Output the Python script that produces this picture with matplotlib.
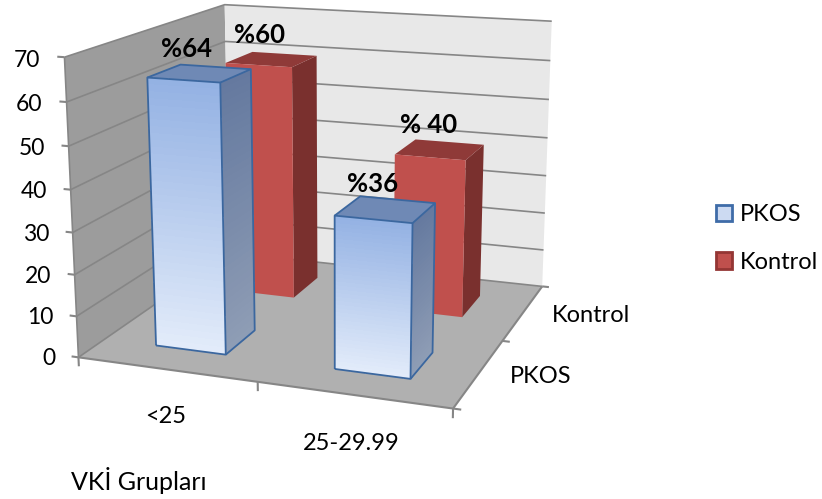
import numpy as np
import matplotlib
matplotlib.use("Agg")
import matplotlib.pyplot as plt
from matplotlib.patches import Patch
from mpl_toolkits.mplot3d import proj3d
from mpl_toolkits.mplot3d.art3d import Poly3DCollection, Line3DCollection

plt.rcParams['font.family'] = ['Lato', 'DejaVu Sans']

groups = ['<25', '25-29.99']
series = ['PKOS', 'Kontrol']
pkos = [64, 36]
kontrol = [60, 40]
pkos_labels = ['%64', '%36']
kontrol_labels = ['%60', '% 40']
z_ticks = [0, 10, 20, 30, 40, 50, 60, 70]

W, H = 822, 499

# corners of the chart box: (x, y, z) -> pixel position
box = [
    ((0, 0, 0), (78, 358)),
    ((2, 0, 0), (453, 408)),
    ((2, 2, 0), (542, 287)),
    ((0, 2, 0), (230, 252)),
    ((0, 0, 70), (65, 57)),
    ((0, 2, 70), (224, 5)),
    ((2, 2, 70), (552, 21)),
]


# camera matrix fitted on the box corners
def fit_camera(points):
    rows, rhs = [], []
    for (x, y, z), (u, v) in points:
        rows.append([x, y, z, 1, 0, 0, 0, 0, -u * x, -u * y, -u * z])
        rhs.append(u)
        rows.append([0, 0, 0, 0, x, y, z, 1, -v * x, -v * y, -v * z])
        rhs.append(v)
    p = np.linalg.lstsq(np.array(rows, float), np.array(rhs, float), rcond=None)[0]
    return np.array([p[:4], p[4:8], [0, 0, 0.01, 0], [p[8], p[9], p[10], 1.0]])


fig = plt.figure(figsize=(W / 100, H / 100), dpi=100)
ax = fig.add_axes([0, (H - W) / 2 / H, 1, W / H], projection='3d', computed_zorder=False)
ax.set_axis_off()
ax.set_xticks([])
ax.set_yticks([])
ax.set_zticks([])
ax.patch.set_visible(False)
M = fit_camera(box)
ax.get_proj = lambda: M
ax.viewLim.intervalx = (0, W)
ax.viewLim.intervaly = (H + (W - H) / 2, -(W - H) / 2)


def quad(corners, color, zorder):
    poly = Poly3DCollection([corners], facecolors=color, edgecolors='none')
    poly.set_zorder(zorder)
    ax.add_collection3d(poly, autolim=False)


def line(points, color, lw, zorder):
    col = Line3DCollection([points], colors=color, linewidths=lw)
    col.set_zorder(zorder)
    ax.add_collection3d(col, autolim=False)


def label(x, y, z, s, **kw):
    u, v, _ = proj3d.proj_transform(x, y, z, M)
    ax.text2D(float(u), float(v), s, va='center', zorder=9, **kw)


def vgrad(x0, y0, x1, y1, z1, top, bottom, zorder):
    # vertical face with a colour fade, drawn as thin slices
    if top == bottom:
        quad([(x0, y0, 0), (x1, y1, 0), (x1, y1, z1), (x0, y0, z1)], top, zorder)
        return
    top = np.array(matplotlib.colors.to_rgb(top))
    bottom = np.array(matplotlib.colors.to_rgb(bottom))
    levels = np.linspace(0, z1, 41)
    verts, cols = [], []
    for i in range(40):
        z_a, z_b = levels[i], levels[i + 1]
        verts.append([(x0, y0, z_a), (x1, y1, z_a), (x1, y1, z_b), (x0, y0, z_b)])
        cols.append(bottom + (top - bottom) * (i + 0.5) / 40)
    poly = Poly3DCollection(verts, facecolors=cols, edgecolors='none', antialiased=False)
    poly.set_zorder(zorder)
    ax.add_collection3d(poly, autolim=False)


def bar(i, j, value, style, zorder):
    x0, x1 = i + 0.3, i + 0.7
    y0, y1 = j + 0.3, j + 0.7
    vgrad(x1, y0, x1, y1, value, style['side_top'], style['side_bottom'], zorder)
    quad([(x0, y0, value), (x1, y0, value), (x1, y1, value), (x0, y1, value)], style['cap'], zorder + 0.1)
    vgrad(x0, y0, x1, y0, value, style['front_top'], style['front_bottom'], zorder + 0.2)
    if style['edge']:
        line([(x0, y0, 0), (x1, y0, 0), (x1, y0, value), (x0, y0, value), (x0, y0, 0)], style['edge'], 1.3, zorder + 0.3)
        line([(x1, y0, 0), (x1, y1, 0), (x1, y1, value), (x1, y0, value)], style['edge'], 1.3, zorder + 0.3)
        line([(x0, y0, value), (x0, y1, value), (x1, y1, value)], style['edge'], 1.3, zorder + 0.3)


GRID = '#868686'

# floor and walls
quad([(0, 0, 0), (2, 0, 0), (2, 2, 0), (0, 2, 0)], '#b0b0b0', 1)
quad([(0, 0, 0), (0, 2, 0), (0, 2, 70), (0, 0, 70)], '#9c9c9c', 1)
quad([(0, 2, 0), (2, 2, 0), (2, 2, 70), (0, 2, 70)], '#e8e8e8', 1)

for z in z_ticks:
    line([(0, 0, z), (0, 2, z), (2, 2, z)], GRID, 1.2, 2)
    line([(-0.04, 0, z), (0, 0, z)], GRID, 1.5, 2)
    label(-0.135, 0, z - 1, str(z), ha='right', fontsize=16.5, color='black')
line([(0, 0, 0), (0, 0, 70)], GRID, 1.2, 2)
line([(0, 0, 0), (2, 0, 0), (2, 2, 0)], GRID, 1.5, 2)

for i in range(3):
    line([(i, 0, 0), (i, 0, -2.2)], GRID, 1.5, 2)
    line([(2, i, 0), (2.04, i, 0)], GRID, 1.5, 2)

blue = dict(front_top='#93b1e3', front_bottom='#e3ecfa', side_top='#64799f', side_bottom='#8f9db5',
            cap='#6f89b5', edge='#3b679f')
red = dict(front_top='#c0504d', front_bottom='#c0504d', side_top='#7a302e', side_bottom='#7a302e',
           cap='#8f3a38', edge=None)

for i, v in enumerate(kontrol):
    bar(i, 1, v, red, 3 + i)
for i, v in enumerate(pkos):
    bar(i, 0, v, blue, 5 + i)

# value labels above the bars
for i, v in enumerate(pkos):
    label(i + 0.43, 0.5, v + 5.5, pkos_labels[i], ha='center', fontsize=18.5, fontweight='bold')
for i, v in enumerate(kontrol):
    label(i + 0.43, 1.5, v + 6, kontrol_labels[i], ha='center', fontsize=18.5, fontweight='bold')

for i, name in enumerate(groups):
    label(i + 0.49, 0, -11.5, name, ha='center', fontsize=17)
for j, name in enumerate(series):
    label(2.16, j + 0.5, 0, name, ha='left', fontsize=17)

fig.text(71 / W, 1 - 481 / H, 'VKİ Grupları', ha='left', va='center', fontsize=18)

handles = [Patch(facecolor='#ccdaf2', edgecolor='#3f6ca8', lw=2),
           Patch(facecolor='#c0504d', edgecolor='#943634', lw=2)]
fig.legend(handles, series, loc='upper left', bbox_to_anchor=(716 / W, 1 - 204 / H), frameon=False,
           fontsize=17, borderpad=0, borderaxespad=0, handlelength=0.68, handleheight=0.68,
           handletextpad=0.32, labelspacing=1.13)

fig.savefig('out.png', dpi=100)
